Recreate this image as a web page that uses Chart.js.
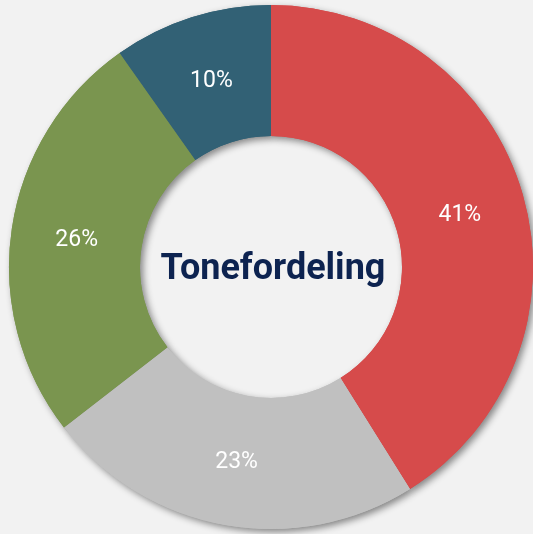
<!DOCTYPE html>
<html>
<head>
<meta charset="utf-8">
<script src="https://cdn.jsdelivr.net/npm/chart.js@4"></script>
<style>
    body { margin: 0; background: #f2f2f2; }
    canvas { display: block; }
</style>
</head>
<body>
<canvas id="toneChart" width="533" height="534"></canvas>
<script>
var categories = ["Rød", "Grå", "Grøn", "Blå"];
var shares = [41.1, 23.4, 25.7, 9.8];
var sliceColors = ["#d64b4b", "#c0c0c0", "#7a954f", "#326175"];
var centerTitle = "Tonefordeling";

// shadow under the whole ring, drawn once before the slices
var ringShadow = {
    id: 'ringShadow',
    beforeDatasetsDraw: function (chart) {
        var ctx = chart.ctx;
        ctx.save();
        ctx.shadowColor = 'rgba(0, 0, 0, 0.45)';
        ctx.shadowBlur = 7;
        ctx.shadowOffsetX = 3;
        ctx.shadowOffsetY = 3;
        chart.getDatasetMeta(0).data.forEach(function (arc) {
            arc.draw(ctx);
        });
        ctx.restore();
    }
};

var sliceLabels = {
    id: 'sliceLabels',
    afterDatasetsDraw: function (chart) {
        var ctx = chart.ctx;
        var values = chart.data.datasets[0].data;
        ctx.save();
        ctx.fillStyle = '#ffffff';
        ctx.font = '23px Roboto';
        ctx.textAlign = 'center';
        ctx.textBaseline = 'middle';
        chart.getDatasetMeta(0).data.forEach(function (arc, i) {
            var pos = arc.tooltipPosition();
            ctx.fillText(Math.round(values[i]) + '%', pos.x, pos.y + 2);
        });

        var area = chart.chartArea;
        ctx.fillStyle = '#0d2350';
        ctx.font = 'bold 36px Roboto';
        ctx.fillText(centerTitle, (area.left + area.right) / 2 + 2, (area.top + area.bottom) / 2 + 3);
        ctx.restore();
    }
};

var ctx = document.getElementById("toneChart").getContext('2d');
var toneChart = new Chart(ctx, {
    type: 'doughnut',
    data: {
        labels: categories,
        datasets: [{
            data: shares,
            backgroundColor: sliceColors,
            borderWidth: 0
        }]
    },
    options: {
        responsive: false,
        animation: false,
        cutout: '50%',
        layout: {
            padding: { left: 9, right: 0, top: 5, bottom: 5 }
        },
        plugins: {
            legend: { display: false },
            tooltip: { enabled: false }
        }
    },
    plugins: [ringShadow, sliceLabels]
});
</script>
</body>
</html>
